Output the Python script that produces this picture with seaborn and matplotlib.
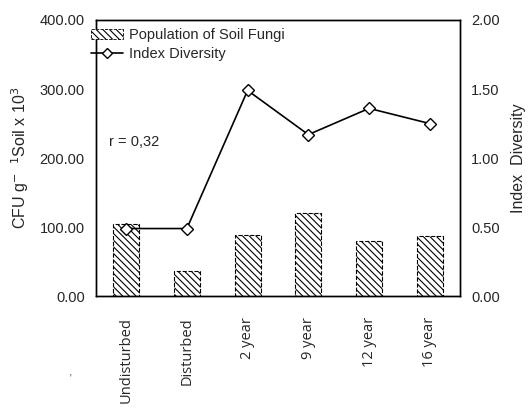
import matplotlib
matplotlib.use('Agg')
import numpy as np
import pandas as pd
import seaborn as sns
import matplotlib.pyplot as plt
from matplotlib.patches import Patch
from matplotlib.lines import Line2D

# data
sites = ['Undisturbed', 'Disturbed', '2 year', '9 year', '12 year', '16 year']
fungi_pop = [104, 37, 88, 120, 80, 87]
index_div = [0.49, 0.49, 1.49, 1.17, 1.36, 1.25]

sns.set_style('white')
plt.rcParams['font.family'] = ['Liberation Sans', 'DejaVu Sans']
plt.rcParams['hatch.linewidth'] = 0.8
plt.rcParams['hatch.color'] = 'black'

df = pd.DataFrame({'site': sites, 'fungi': fungi_pop, 'div': index_div})

fig = plt.figure(figsize=(5.32, 4.08), dpi=100)
ax = fig.add_axes([0.180, 0.274, 0.685, 0.677])

sns.barplot(data=df, x='site', y='fungi', ax=ax, color='white', width=0.43,
            edgecolor='black', linewidth=0.8, linestyle='--', hatch='\\\\\\\\\\')
ax.set_xlim(-0.5, 5.5)
ax.set_ylim(0, 400)
ax.set_yticks([0, 100, 200, 300, 400])
ax.set_yticklabels([f'{v:.2f}' for v in [0, 100, 200, 300, 400]], fontsize=10.5)
ax.set_xlabel('')
ax.set_ylabel('CFU g$^{-}$  $^{1}$Soil x 10$^{3}$', fontsize=11.5, labelpad=6)
ax.set_xticks(range(len(sites)))
ax.set_xticklabels(sites, rotation=90, fontsize=10.5, family=['Open Sans', 'DejaVu Sans'])
ax.tick_params(axis='y', length=0, pad=8)
ax.tick_params(axis='x', length=0, pad=15)

ax2 = ax.twinx()
sns.pointplot(data=df, x='site', y='div', ax=ax2, color='black', markers='D',
              errorbar=None, markersize=6, markerfacecolor='white',
              markeredgewidth=1.0, linewidth=1.2)
ax2.set_xlim(-0.5, 5.5)
ax2.set_ylim(0, 2)
ax2.set_yticks([0, 0.5, 1.0, 1.5, 2.0])
ax2.set_yticklabels([f'{v:.2f}' for v in [0, 0.5, 1.0, 1.5, 2.0]], fontsize=10.5)
ax2.set_ylabel('Index  Diversity', fontsize=11.5, labelpad=8)
ax2.tick_params(axis='both', length=0, pad=8)

for a in (ax, ax2):
    for s in a.spines.values():
        s.set_color('black')
        s.set_linewidth(1.0)

ax.text(0.035, 0.545, 'r = 0,32', transform=ax.transAxes, fontsize=10.5)
fig.text(0.13, 0.08, ',', fontsize=9, color='#555555')

handles = [Patch(facecolor='white', edgecolor='black', hatch='\\\\\\\\\\', linestyle='--', linewidth=0.6),
           Line2D([0], [0], color='black', marker='D', markerfacecolor='white', markersize=5, linewidth=1.2)]
fig.legend(handles, ['Population of Soil Fungi', 'Index Diversity'], loc='upper left',
           bbox_to_anchor=(0.155, 0.952), frameon=False, fontsize=10.5,
           handlelength=2.2, handletextpad=0.4, labelspacing=0.35, borderpad=0.1)

fig.savefig('out.png', dpi=100)
